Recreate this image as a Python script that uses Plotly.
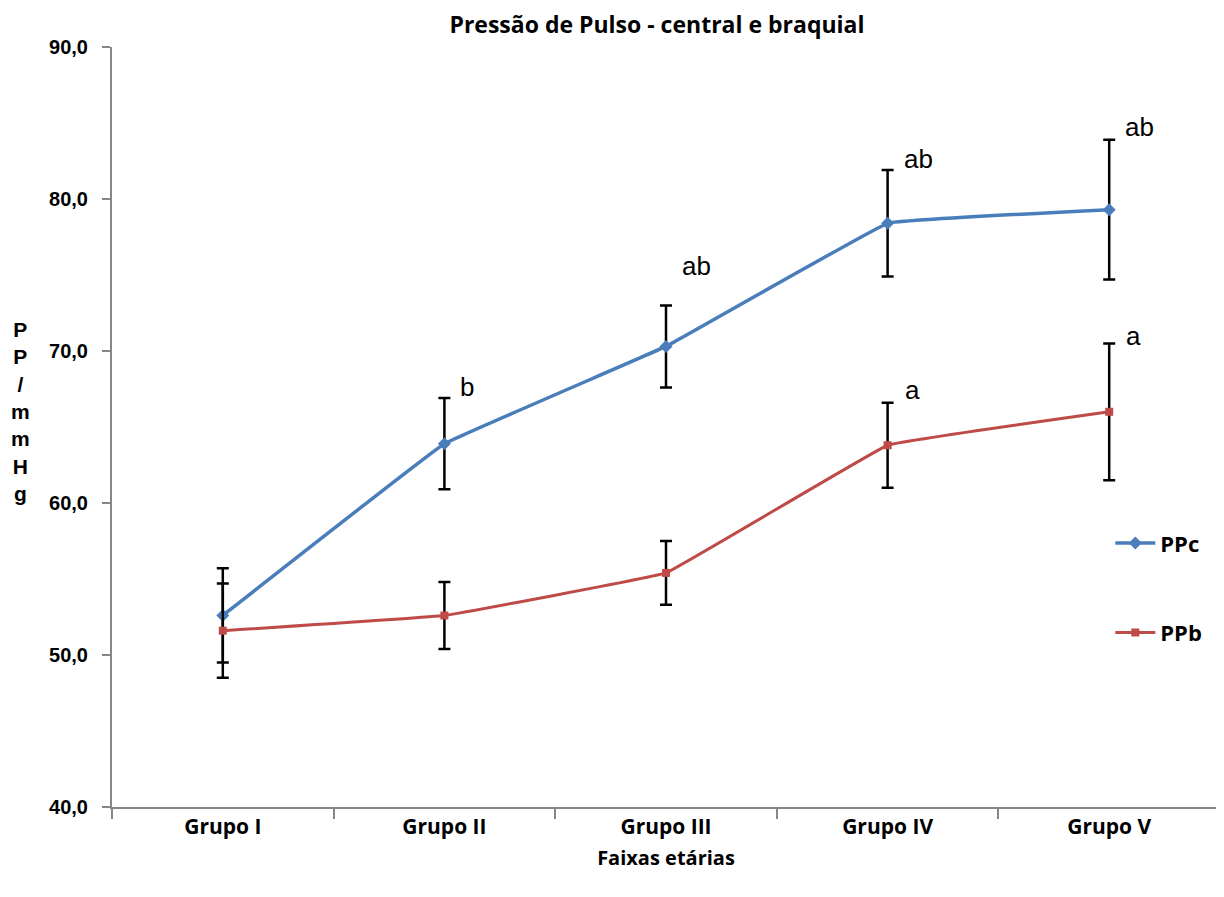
import plotly.graph_objects as go

categories = ["Grupo I", "Grupo II", "Grupo III", "Grupo IV", "Grupo V"]
ppc = [52.6, 63.9, 70.3, 78.4, 79.3]
ppc_err = [3.1, 3.0, 2.7, 3.5, 4.6]
ppb = [51.6, 52.6, 55.4, 63.8, 66.0]
ppb_err = [3.1, 2.2, 2.1, 2.8, 4.5]
ppc_labels = ["", "b", "ab", "ab", "ab"]
ppb_labels = ["", "", "", "a", "a"]
ytick_vals = [40, 50, 60, 70, 80, 90]
ytick_text = ["40,0", "50,0", "60,0", "70,0", "80,0", "90,0"]

BLUE = "#4A7EBB"
RED = "#BE4B48"
BOLD_SANS = "Open Sans, Lato, sans-serif"
ARIAL = "Liberation Sans, Arial, sans-serif"

fig = go.Figure()
fig.add_trace(go.Scatter(
    x=categories, y=ppc, name="PPc", mode="lines+markers",
    line=dict(color=BLUE, width=3.5, shape="spline", smoothing=0.15),
    marker=dict(symbol="diamond", size=10, color=BLUE),
    error_y=dict(type="data", array=ppc_err, color="black", thickness=2.5, width=6),
    legendgroup="a",
))
fig.add_trace(go.Scatter(
    x=categories, y=ppb, name="PPb", mode="lines+markers",
    line=dict(color=RED, width=3, shape="spline", smoothing=0.15),
    marker=dict(symbol="square", size=8, color=RED),
    error_y=dict(type="data", array=ppb_err, color="black", thickness=2.5, width=6),
    legendgroup="b",
))

label_shift_c = [0, 8, 36, 8, 10]
label_shift_b = [0, 0, 0, 10, 4]
for i, c in enumerate(categories):
    if ppc_labels[i]:
        fig.add_annotation(x=c, y=ppc[i] + ppc_err[i], text=ppc_labels[i], showarrow=False,
                           xanchor="left", yanchor="bottom", xshift=14, yshift=label_shift_c[i] - 14,
                           font=dict(family=ARIAL, size=26, color="black"))
    if ppb_labels[i]:
        fig.add_annotation(x=c, y=ppb[i] + ppb_err[i], text=ppb_labels[i], showarrow=False,
                           xanchor="left", yanchor="bottom", xshift=15, yshift=label_shift_b[i] - 14,
                           font=dict(family=ARIAL, size=26, color="black"))

fig.add_annotation(
    text="P<br>P<br>/<br>m<br>m<br>H<br>g", xref="paper", yref="paper",
    x=-0.083, y=0.52, xanchor="center", yanchor="middle", showarrow=False,
    font=dict(family=ARIAL, size=21, color="black", weight="bold"),
)

fig.update_layout(
    width=1224, height=897,
    paper_bgcolor="white", plot_bgcolor="white",
    margin=dict(l=104, r=12, t=39, b=98),
    title=dict(text="Pressão de Pulso - central e braquial", x=(657 - 8) / 1224, xref="container",
               xanchor="center", y=1 - (25 - 8) / 897, yanchor="middle",
               font=dict(family=BOLD_SANS, size=23, color="black", weight="bold")),
    showlegend=True,
    legend=dict(x=0.901, y=0.288, xref="paper", yref="paper", xanchor="left", yanchor="middle",
                bgcolor="rgba(0,0,0,0)", tracegroupgap=58, itemwidth=40,
                font=dict(family=BOLD_SANS, size=22, color="black", weight="bold")),
    xaxis=dict(
        range=[-0.5, 4.5],
        title=dict(text="Faixas etárias", standoff=12,
                   font=dict(family=BOLD_SANS, size=20, color="black", weight="bold")),
        showline=True, linecolor="#868686", linewidth=2,
        ticks="outside", ticklen=10, tickcolor="#868686", tickwidth=1.5, tickson="boundaries",
        showgrid=False, zeroline=False,
        tickfont=dict(family=BOLD_SANS, size=21, color="black", weight="bold"),
        ticklabelstandoff=0,
    ),
    yaxis=dict(
        range=[40, 90], tickvals=ytick_vals, ticktext=ytick_text,
        showline=True, linecolor="#868686", linewidth=2,
        ticks="outside", ticklen=8, tickcolor="#868686", tickwidth=1.5,
        showgrid=False, zeroline=False,
        tickfont=dict(family=ARIAL, size=20, color="black", weight="bold"),
        ticklabelstandoff=10,
    ),
)

fig.write_html("out.html")
